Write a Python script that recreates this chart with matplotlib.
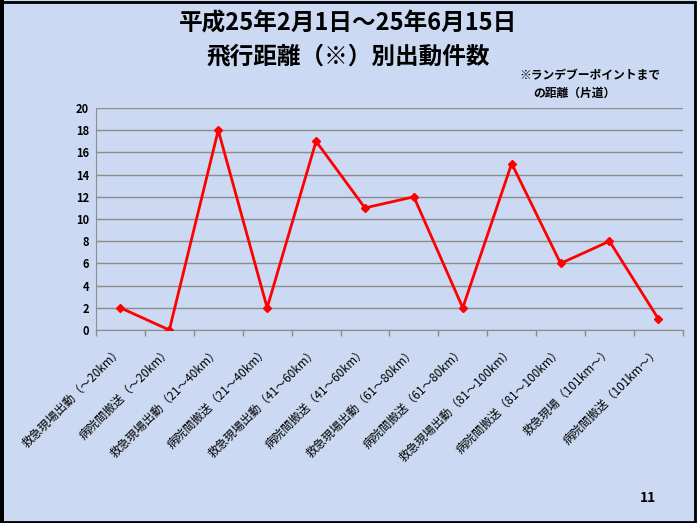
import numpy as np
import matplotlib.pyplot as plt
from matplotlib.patches import Rectangle

plt.rcParams['font.family'] = ['Noto Sans CJK JP', 'DejaVu Sans']

# データ
categories = [
    "救急現場出動（～20km）", "病院間搬送（～20km）",
    "救急現場出動（21～40km）", "病院間搬送（21～40km）",
    "救急現場出動（41～60km）", "病院間搬送（41～60km）",
    "救急現場出動（61～80km）", "病院間搬送（61～80km）",
    "救急現場出動（81～100km）", "病院間搬送（81～100km）",
    "救急現場（101km～）", "病院間搬送（101km～）",
]
counts = [2, 0, 18, 2, 17, 11, 12, 2, 15, 6, 8, 1]
yticks = [0, 2, 4, 6, 8, 10, 12, 14, 16, 18, 20]

bg = "#cbd9f2"
fig = plt.figure(figsize=(6.97, 5.23), dpi=100, facecolor=bg)

ax = fig.add_axes([0.1377, 0.369, 0.842, 0.4245])
ax.set_facecolor("none")
x = np.arange(len(categories))
ax.plot(x, counts, color="#ff0000", lw=2, marker="D", ms=4.5, zorder=3)

ax.set_xlim(-0.5, len(categories) - 0.5)
ax.set_ylim(0, 20)
ax.set_yticks(yticks)
ax.set_yticklabels([str(v) for v in yticks], fontsize=8, fontweight="bold")
ax.yaxis.grid(True, color="#8c8c8c", lw=1)
ax.set_axisbelow(True)
ax.tick_params(axis="y", length=0, pad=5)

ax.set_xticks(np.arange(len(categories) + 1) - 0.5, minor=True)
ax.set_xticks(x)
ax.set_xticklabels(categories, rotation=45, ha="right", va="center",
                   rotation_mode="anchor", fontsize=8.5)
ax.tick_params(axis="x", which="major", length=0, pad=14)
ax.tick_params(axis="x", which="minor", length=4, color="#8c8c8c", width=1)

for s in ["top", "right"]:
    ax.spines[s].set_visible(False)
ax.spines["left"].set_color("#8c8c8c")
ax.spines["bottom"].set_color("#8c8c8c")

fig.text(0.5, 0.955, "平成25年2月1日～25年6月15日", ha="center", va="center",
         fontsize=17, fontweight="bold")
fig.text(0.5, 0.893, "飛行距離（※）別出動件数", ha="center", va="center",
         fontsize=17, fontweight="bold")
fig.text(0.745, 0.855, "※ランデブーポイントまで", ha="left", va="center",
         fontsize=8.5, fontweight="bold")
fig.text(0.765, 0.822, "の距離（片道）", ha="left", va="center",
         fontsize=8.5, fontweight="bold")
fig.text(0.918, 0.047, "11", ha="left", va="center", fontsize=10, fontweight="bold")

# 枠線
fig.add_artist(Rectangle((0.002, 0.002), 0.995, 0.995, transform=fig.transFigure,
                         fill=False, edgecolor="black", lw=2))
fig.add_artist(Rectangle((0, 0), 0.006, 1, transform=fig.transFigure,
                         color="black", lw=0))

fig.savefig("out.png", dpi=100, facecolor=bg)
